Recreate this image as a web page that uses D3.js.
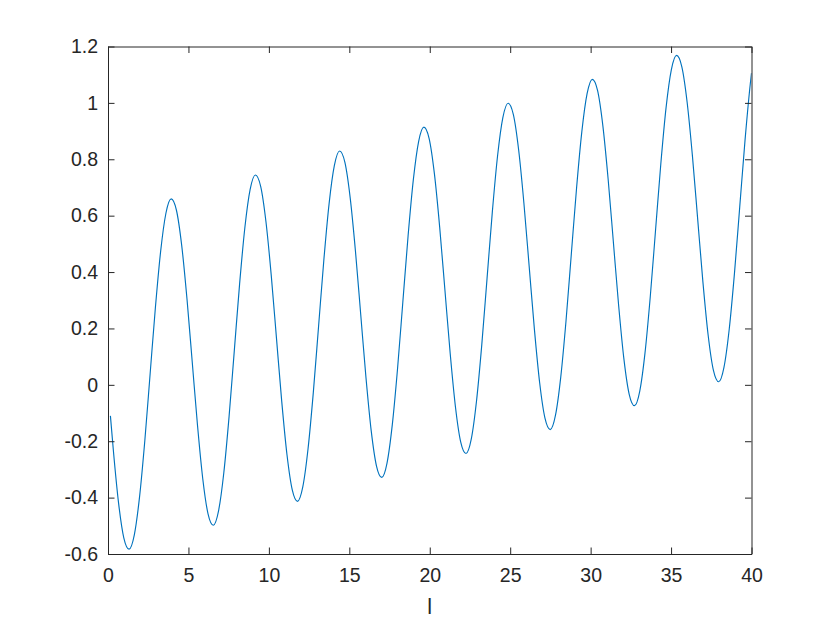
<!DOCTYPE html>
<html>
<head>
<meta charset="utf-8">
<script src="https://cdn.jsdelivr.net/npm/d3@7"></script>
<style>
  html, body { margin: 0; padding: 0; background: #ffffff; }
  svg { display: block; }
  text { font-family: "Liberation Sans", Arial, Helvetica, sans-serif; fill: #262626; }
</style>
</head>
<body>
<svg id="chart" width="830" height="623"></svg>
<script>
// ---- data ----
const xValues = [0.15, 0.327, 0.654, 0.982, 1.309, 1.636, 1.963, 2.291, 2.618, 2.945, 3.272, 3.600, 3.927, 4.254, 4.581, 4.909,
  5.236, 5.563, 5.890, 6.218, 6.545, 6.872, 7.199, 7.527, 7.854, 8.181, 8.508, 8.836, 9.163, 9.490, 9.817, 10.145,
  10.472, 10.799, 11.126, 11.454, 11.781, 12.108, 12.435, 12.763, 13.090, 13.417, 13.744, 14.072, 14.399, 14.726, 15.053, 15.381,
  15.708, 16.035, 16.362, 16.690, 17.017, 17.344, 17.671, 17.999, 18.326, 18.653, 18.980, 19.308, 19.635, 19.962, 20.289, 20.617,
  20.944, 21.271, 21.598, 21.926, 22.253, 22.580, 22.907, 23.235, 23.562, 23.889, 24.216, 24.544, 24.871, 25.198, 25.525, 25.853,
  26.180, 26.507, 26.834, 27.162, 27.489, 27.816, 28.143, 28.471, 28.798, 29.125, 29.452, 29.780, 30.107, 30.434, 30.761, 31.089,
  31.416, 31.743, 32.070, 32.398, 32.725, 33.052, 33.379, 33.707, 34.034, 34.361, 34.688, 35.016, 35.343, 35.670, 35.997, 36.325,
  36.652, 36.979, 37.306, 37.634, 37.961, 38.288, 38.615, 38.943, 39.270, 39.597, 39.924, 40];

const yValues = [-0.110, -0.2283, -0.4177, -0.5424, -0.5828, -0.5318, -0.3965, -0.1965, 0.0384, 0.2733, 0.4733, 0.6086, 0.6596, 0.6192, 0.4945, 0.3051,
  0.0808, -0.1435, -0.3329, -0.4576, -0.4980, -0.4470, -0.3117, -0.1117, 0.1232, 0.3581, 0.5581, 0.6934, 0.7444, 0.7040, 0.5793, 0.3899,
  0.1656, -0.0587, -0.2481, -0.3728, -0.4132, -0.3622, -0.2269, -0.0269, 0.2080, 0.4429, 0.6429, 0.7782, 0.8292, 0.7888, 0.6641, 0.4747,
  0.2504, 0.0261, -0.1633, -0.2880, -0.3284, -0.2774, -0.1421, 0.0579, 0.2928, 0.5277, 0.7277, 0.8630, 0.9140, 0.8736, 0.7489, 0.5595,
  0.3352, 0.1109, -0.0785, -0.2032, -0.2436, -0.1926, -0.0573, 0.1427, 0.3776, 0.6125, 0.8125, 0.9478, 0.9988, 0.9584, 0.8337, 0.6443,
  0.4200, 0.1957, 0.0063, -0.1184, -0.1588, -0.1078, 0.0275, 0.2275, 0.4624, 0.6973, 0.8973, 1.0326, 1.0836, 1.0432, 0.9185, 0.7291,
  0.5048, 0.2805, 0.0911, -0.0336, -0.0740, -0.0230, 0.1123, 0.3123, 0.5472, 0.7821, 0.9821, 1.1174, 1.1684, 1.1280, 1.0033, 0.8139,
  0.5896, 0.3653, 0.1759, 0.0512, 0.0108, 0.0618, 0.1971, 0.3971, 0.6320, 0.8669, 1.0669, 1.1056];

const xTicks = [0, 5, 10, 15, 20, 25, 30, 35, 40];
const xTickLabels = ["0", "5", "10", "15", "20", "25", "30", "35", "40"];
const yTicks = [-0.6, -0.4, -0.2, 0, 0.2, 0.4, 0.6, 0.8, 1, 1.2];
const yTickLabels = ["-0.6", "-0.4", "-0.2", "0", "0.2", "0.4", "0.6", "0.8", "1", "1.2"];
const xLabel = "l";

(function () {
  // ---- layout ----
  const W = 830, H = 623;
  const pLeft = 108, pRight = 751.5, pTop = 46.5, pBottom = 554;
  const axisColor = "#262626";
  const tickLen = 6.5;

  const svg = d3.select("#chart");
  svg.append("rect").attr("width", W).attr("height", H).attr("fill", "#ffffff");

  const x = d3.scaleLinear().domain([0, 40]).range([pLeft, pRight]);
  const y = d3.scaleLinear().domain([-0.6, 1.2]).range([pBottom, pTop]);

  svg.append("clipPath").attr("id", "clip")
    .append("rect").attr("x", pLeft).attr("y", pTop).attr("width", pRight - pLeft).attr("height", pBottom - pTop);

  const data = xValues.map((v, i) => ({ x: v, y: yValues[i] }));
  const line = d3.line().x(d => x(d.x)).y(d => y(d.y)).curve(d3.curveMonotoneX);

  svg.append("path")
    .datum(data)
    .attr("clip-path", "url(#clip)")
    .attr("fill", "none")
    .attr("stroke", "#0072BD")
    .attr("stroke-width", 1.15)
    .attr("stroke-linejoin", "round")
    .attr("d", line);

  const fmtX = d => xTickLabels[xTicks.indexOf(d)];
  const fmtY = d => yTickLabels[yTicks.indexOf(d)];

  const gBottom = svg.append("g").attr("transform", `translate(0,${pBottom})`)
    .call(d3.axisBottom(x).tickValues(xTicks).tickFormat(fmtX).tickSizeInner(-tickLen).tickSizeOuter(0).tickPadding(14));
  const gTop = svg.append("g").attr("transform", `translate(0,${pTop})`)
    .call(d3.axisTop(x).tickValues(xTicks).tickFormat("").tickSizeInner(-tickLen).tickSizeOuter(0));
  const gLeft = svg.append("g").attr("transform", `translate(${pLeft},0)`)
    .call(d3.axisLeft(y).tickValues(yTicks).tickFormat(fmtY).tickSizeInner(-tickLen).tickSizeOuter(0).tickPadding(10));
  const gRight = svg.append("g").attr("transform", `translate(${pRight},0)`)
    .call(d3.axisRight(y).tickValues(yTicks).tickFormat("").tickSizeInner(-tickLen).tickSizeOuter(0));

  [gBottom, gTop, gLeft, gRight].forEach(g => {
    g.selectAll(".domain").attr("stroke", axisColor).attr("stroke-width", 1);
    g.selectAll(".tick line").attr("stroke", axisColor).attr("stroke-width", 1);
    g.selectAll(".tick text").attr("fill", axisColor)
      .style("font-family", '"Liberation Sans", Arial, Helvetica, sans-serif')
      .style("font-size", "19.5px");
  });

  svg.append("text")
    .attr("x", (pLeft + pRight) / 2)
    .attr("y", 614)
    .attr("text-anchor", "middle")
    .style("font-size", "21.5px")
    .text(xLabel);
})();
</script>
</body>
</html>
